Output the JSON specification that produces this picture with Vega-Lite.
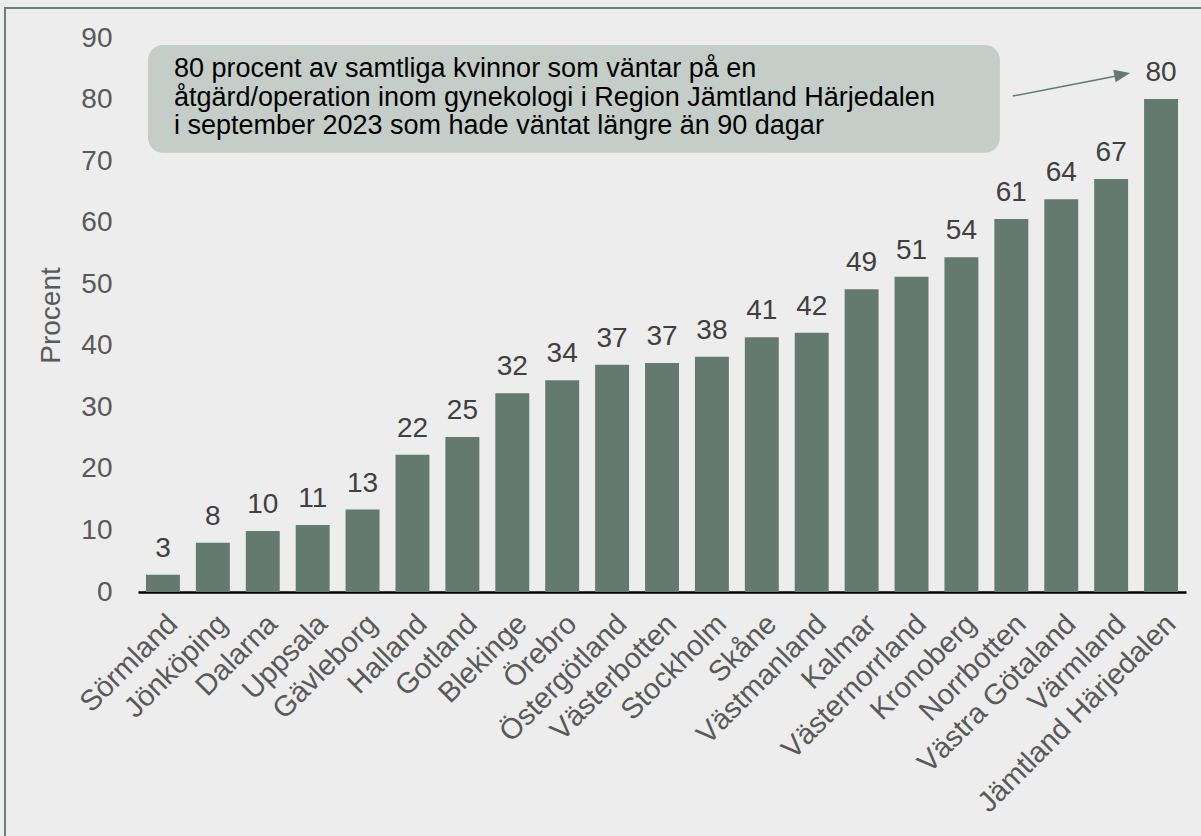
{
  "$schema": "https://vega.github.io/schema/vega-lite/v6.json",
  "width": 1048,
  "height": 554,
  "autosize": {"type": "none"},
  "padding": {"left": 138, "top": 38, "right": 15, "bottom": 244},
  "background": "#ededed",
  "config": {
    "view": {"stroke": null},
    "font": "Liberation Sans",
    "text": {"font": "Liberation Sans"}
  },
  "datasets": {
    "regions": [
      {"region": "Sörmland", "procent": 2.8},
      {"region": "Jönköping", "procent": 8.0},
      {"region": "Dalarna", "procent": 9.9},
      {"region": "Uppsala", "procent": 10.9},
      {"region": "Gävleborg", "procent": 13.4},
      {"region": "Halland", "procent": 22.3},
      {"region": "Gotland", "procent": 25.2},
      {"region": "Blekinge", "procent": 32.3},
      {"region": "Örebro", "procent": 34.4},
      {"region": "Östergötland", "procent": 36.9},
      {"region": "Västerbotten", "procent": 37.2},
      {"region": "Stockholm", "procent": 38.2},
      {"region": "Skåne", "procent": 41.4},
      {"region": "Västmanland", "procent": 42.1},
      {"region": "Kalmar", "procent": 49.2},
      {"region": "Västernorrland", "procent": 51.2},
      {"region": "Kronoberg", "procent": 54.4},
      {"region": "Norrbotten", "procent": 60.6},
      {"region": "Västra Götaland", "procent": 63.8},
      {"region": "Värmland", "procent": 67.1},
      {"region": "Jämtland Härjedalen", "procent": 80.1}
    ],
    "frame": [{"x": -2.665, "x2": 40, "y": 94.87, "y2": -80}],
    "box": [{"x": 0.2, "x2": 17.27, "y": 71.36, "y2": 88.86}],
    "lines": [
      {"x": 0.72, "y": 83.71, "t": "80 procent av samtliga kvinnor som väntar på en"},
      {"x": 0.72, "y": 79.03, "t": "åtgärd/operation inom gynekologi i Region Jämtland Härjedalen"},
      {"x": 0.72, "y": 74.4, "t": "i september 2023 som hade väntat längre än 90 dagar"}
    ],
    "arrow": [
      {"x": 17.53, "y": 80.57},
      {"x": 19.58, "y": 83.8}
    ],
    "tip": [{"x": 19.88, "y": 84.31}]
  },
  "layer": [
    {
      "layer": [
        {
          "data": {"name": "regions"},
          "mark": {"type": "bar", "color": "#64796f"},
          "encoding": {
            "x": {
              "field": "region", "type": "nominal", "sort": null,
              "scale": {"paddingInner": 0.32, "paddingOuter": 0.16},
              "axis": {
                "title": null, "labelAngle": -45, "labelFontSize": 29,
                "labelColor": "#595959", "labelPadding": 17, "labelDx": -9, "labelLimit": 400,
                "labelOverlap": false, "ticks": false,
                "domainColor": "#000000", "domainWidth": 2.5
              }
            },
            "y": {
              "field": "procent", "type": "quantitative",
              "scale": {"domain": [0, 90], "nice": false},
              "axis": {
                "values": [0, 10, 20, 30, 40, 50, 60, 70, 80, 90],
                "grid": false, "ticks": false, "domain": false,
                "labelFontSize": 28, "labelColor": "#595959", "labelPadding": 26,
                "title": "Procent", "titleFontSize": 28, "titleFontWeight": "normal",
                "titleColor": "#595959", "titlePadding": 15
              }
            }
          }
        },
        {
          "data": {"name": "regions"},
          "mark": {"type": "text", "dy": -18, "baseline": "alphabetic", "fontSize": 28, "color": "#404040"},
          "encoding": {
            "x": {"field": "region", "type": "nominal", "sort": null},
            "y": {"field": "procent", "type": "quantitative"},
            "text": {"field": "procent", "type": "quantitative", "format": ".0f"}
          }
        }
      ]
    },
    {
      "layer": [
        {
          "data": {"name": "frame"},
          "mark": {"type": "rect", "fill": "transparent", "stroke": "#6b7f76", "strokeWidth": 2, "clip": false},
          "encoding": {
            "x": {"field": "x", "type": "quantitative", "scale": {"domain": [0, 21], "nice": false, "zero": false}, "axis": null},
            "x2": {"field": "x2"},
            "y": {"field": "y", "type": "quantitative"},
            "y2": {"field": "y2"}
          }
        },
        {
          "data": {"name": "box"},
          "mark": {"type": "rect", "fill": "#c4cdc7", "cornerRadius": 15},
          "encoding": {
            "x": {"field": "x", "type": "quantitative"},
            "x2": {"field": "x2"},
            "y": {"field": "y", "type": "quantitative"},
            "y2": {"field": "y2"}
          }
        },
        {
          "data": {"name": "lines"},
          "mark": {"type": "text", "align": "left", "baseline": "alphabetic", "fontSize": 27, "color": "#000000"},
          "encoding": {
            "x": {"field": "x", "type": "quantitative"},
            "y": {"field": "y", "type": "quantitative"},
            "text": {"field": "t", "type": "nominal"}
          }
        },
        {
          "data": {"name": "arrow"},
          "mark": {"type": "line", "color": "#64796f", "strokeWidth": 1.5},
          "encoding": {
            "x": {"field": "x", "type": "quantitative"},
            "y": {"field": "y", "type": "quantitative"}
          }
        },
        {
          "data": {"name": "tip"},
          "mark": {"type": "point", "shape": "M 0 0 L -2 -0.8 L -2 0.8 Z", "size": 256, "angle": 349, "filled": true, "color": "#64796f", "opacity": 1},
          "encoding": {
            "x": {"field": "x", "type": "quantitative"},
            "y": {"field": "y", "type": "quantitative"}
          }
        }
      ]
    }
  ],
  "resolve": {"scale": {"x": "independent"}}
}
